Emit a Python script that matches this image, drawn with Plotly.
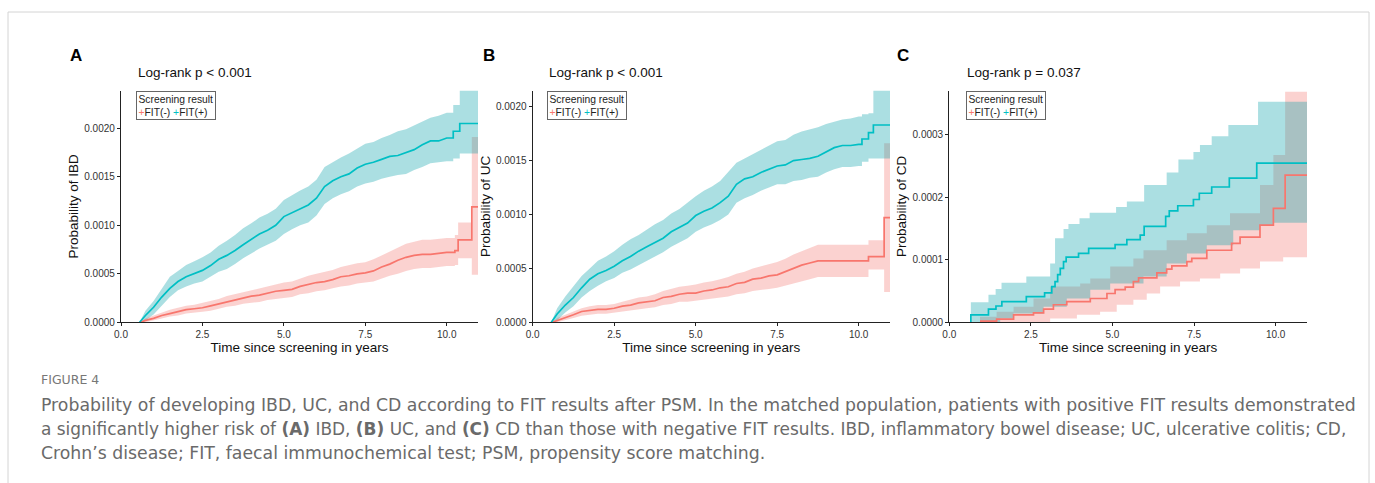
import plotly.graph_objects as go

# ---------------- data ----------------
PINK = "#F8766D"
TEAL = "#00BFC4"
PINK_BAND = "rgba(242,110,102,0.31)"
TEAL_BAND = "rgba(0,158,168,0.33)"

panel_letters = ["A", "B", "C"]
panel_titles = ["Log-rank p &lt; 0.001", "Log-rank p &lt; 0.001", "Log-rank p = 0.037"]
y_titles = ["Probability of IBD", "Probability of UC", "Probability of CD"]
x_title = "Time since screening in years"
x_ticks = [0.0, 2.5, 5.0, 7.5, 10.0]
y_ticks_A = [0.0, 0.0005, 0.0010, 0.0015, 0.0020]
y_ticks_B = [0.0, 0.0005, 0.0010, 0.0015, 0.0020]
y_ticks_C = [0.0, 0.0001, 0.0002, 0.0003]
x_max = 10.96
y_max = [0.00239, 0.00215, 0.00037]
legend_title = "Screening result"
groups = ["FIT(-)", "FIT(+)"]

# Panel A : IBD
A_pos_t = [0.57, 0.75, 1.0, 1.25, 1.5, 1.75, 2.0, 2.25, 2.5, 2.75, 3.0, 3.25, 3.5, 3.75, 4.0, 4.25,
           4.5, 4.75, 5.0, 5.25, 5.5, 5.75, 6.0, 6.25, 6.5, 6.75, 7.0, 7.25, 7.5, 7.75, 8.0, 8.25,
           8.5, 8.75, 9.0, 9.25, 9.5, 9.75, 10.0, 10.2, 10.4, 10.96]
A_pos_est = [0, 0.00007, 0.000155, 0.00026, 0.00035, 0.00042, 0.00047, 0.0005, 0.000535, 0.000585,
             0.00065, 0.00069, 0.00074, 0.0008, 0.000855, 0.00091, 0.00095, 0.001, 0.00109, 0.00113,
             0.00117, 0.00121, 0.00128, 0.0014, 0.00146, 0.0015, 0.00153, 0.00159, 0.00163, 0.00165,
             0.00168, 0.00171, 0.00172, 0.00175, 0.00178, 0.00183, 0.00187, 0.00187, 0.0019, 0.00197,
             0.00205, 0.00205]
A_pos_lo = [0, 0.00002, 0.00008, 0.00017, 0.00026, 0.00033, 0.00037, 0.0004, 0.00042, 0.00047,
            0.00052, 0.00055, 0.0006, 0.00066, 0.00071, 0.00076, 0.0008, 0.00084, 0.00091, 0.00096,
            0.001, 0.00103, 0.0011, 0.00122, 0.00128, 0.00132, 0.00135, 0.0014, 0.00143, 0.00145,
            0.00148, 0.0015, 0.00152, 0.00153, 0.00157, 0.0016, 0.00164, 0.00165, 0.00166, 0.00169,
            0.00174, 0.00174]
A_pos_hi = [0, 0.00012, 0.00022, 0.00034, 0.00047, 0.00053, 0.00059, 0.00063, 0.00067, 0.00072,
            0.00079, 0.00084, 0.0009, 0.00097, 0.00102, 0.00108, 0.00112, 0.00117, 0.00126, 0.00131,
            0.00136, 0.0014, 0.00147, 0.0016, 0.00165, 0.0017, 0.00174, 0.00179, 0.00184, 0.00186,
            0.0019, 0.00193, 0.00197, 0.00199, 0.00203, 0.00207, 0.00211, 0.00213, 0.00216, 0.00224,
            0.00239, 0.00239]

A_neg_t = [0.6, 0.75, 1.0, 1.25, 1.5, 1.75, 2.0, 2.25, 2.5, 2.75, 3.0, 3.25, 3.5, 3.75, 4.0, 4.25,
           4.5, 4.75, 5.0, 5.25, 5.5, 5.75, 6.0, 6.25, 6.5, 6.75, 7.0, 7.25, 7.5, 7.75, 8.0, 8.25,
           8.5, 8.75, 9.0, 9.25, 9.5, 9.75, 10.0, 10.25, 10.35, 10.77, 10.96]
A_neg_est = [0, 0.00002, 0.00004, 0.00007, 0.00009, 0.00011, 0.00013, 0.00014, 0.00015, 0.00017,
             0.00019, 0.00021, 0.00023, 0.00025, 0.00027, 0.00028, 0.0003, 0.00032, 0.00033, 0.00034,
             0.00037, 0.00039, 0.00041, 0.00042, 0.00044, 0.00047, 0.00048, 0.0005, 0.00051, 0.00053,
             0.00057, 0.0006, 0.00064, 0.00067, 0.00069, 0.0007, 0.0007, 0.00071, 0.00072, 0.00074,
             0.00085, 0.00119, 0.00119]
A_neg_lo = [0, 0, 0.00002, 0.00004, 0.00006, 0.00007, 0.00009, 0.0001, 0.00011, 0.00012,
            0.00014, 0.00016, 0.00017, 0.00019, 0.0002, 0.00021, 0.00023, 0.00024, 0.00025, 0.00026,
            0.00029, 0.0003, 0.00032, 0.00033, 0.00035, 0.00037, 0.00038, 0.0004, 0.00041, 0.00042,
            0.00045, 0.00048, 0.0005, 0.00053, 0.00055, 0.00056, 0.00056, 0.00057, 0.00058, 0.00059,
            0.00066, 0.00049, 0.00049]
A_neg_hi = [0, 0.00004, 0.00007, 0.0001, 0.00013, 0.00015, 0.00017, 0.00018, 0.0002, 0.00022,
            0.00024, 0.00027, 0.00029, 0.00031, 0.00033, 0.00035, 0.00037, 0.00039, 0.00041, 0.00042,
            0.00045, 0.00048, 0.0005, 0.00052, 0.00054, 0.00057, 0.00059, 0.00061, 0.00062, 0.00065,
            0.00069, 0.00073, 0.00077, 0.00081, 0.00083, 0.00085, 0.00085, 0.00086, 0.00087, 0.0009,
            0.00103, 0.00191, 0.00191]

# Panel B : UC
B_pos_t = [0.57, 0.75, 1.0, 1.25, 1.5, 1.75, 2.0, 2.25, 2.5, 2.75, 3.0, 3.25, 3.5, 3.75, 4.0, 4.25,
           4.5, 4.75, 5.0, 5.25, 5.5, 5.75, 6.0, 6.25, 6.5, 6.75, 7.0, 7.25, 7.5, 7.75, 8.0, 8.25,
           8.5, 8.75, 9.0, 9.25, 9.5, 9.75, 10.0, 10.1, 10.3, 10.45, 10.96]
B_pos_est = [0, 0.000077, 0.00016, 0.00023, 0.00032, 0.0004, 0.00045, 0.00048, 0.00052, 0.00057,
             0.00061, 0.00066, 0.0007, 0.00074, 0.00078, 0.00084, 0.00088, 0.00092, 0.00099, 0.00103,
             0.00106, 0.00111, 0.00117, 0.00128, 0.00133, 0.00135, 0.00139, 0.00142, 0.00145, 0.00146,
             0.0015, 0.00151, 0.00152, 0.00154, 0.00158, 0.00162, 0.00164, 0.00164, 0.00165, 0.0017,
             0.00176, 0.00183, 0.00183]
B_pos_lo = [0, 0.00002, 0.00009, 0.00015, 0.00023, 0.00029, 0.00034, 0.00038, 0.00041, 0.00046,
            0.00049, 0.00053, 0.00057, 0.00061, 0.00065, 0.0007, 0.00074, 0.00078, 0.00084, 0.00088,
            0.00091, 0.00095, 0.001, 0.00111, 0.00115, 0.00118, 0.00122, 0.00125, 0.00128, 0.00128,
            0.00131, 0.00132, 0.00134, 0.00135, 0.00139, 0.00142, 0.00144, 0.00144, 0.00145, 0.00149,
            0.00152, 0.00152, 0.00152]
B_pos_hi = [0, 0.00013, 0.00024, 0.00033, 0.00043, 0.0005, 0.00057, 0.00061, 0.00066, 0.00072,
            0.00077, 0.00081, 0.00086, 0.00091, 0.00095, 0.00101, 0.00105, 0.00111, 0.00117, 0.00122,
            0.00126, 0.00131, 0.00139, 0.00148, 0.00152, 0.00156, 0.0016, 0.00164, 0.00168, 0.00169,
            0.00174, 0.00177, 0.00179, 0.00181, 0.00184, 0.00186, 0.00188, 0.00189, 0.00191, 0.00193,
            0.00194, 0.00215, 0.00215]

B_neg_t = [0.6, 0.75, 1.0, 1.25, 1.5, 1.75, 2.0, 2.25, 2.5, 2.75, 3.0, 3.25, 3.5, 3.75, 4.0, 4.25,
           4.5, 4.75, 5.0, 5.25, 5.5, 5.75, 6.0, 6.25, 6.5, 6.75, 7.0, 7.25, 7.5, 7.75, 8.0, 8.25,
           8.5, 8.75, 9.0, 9.25, 9.5, 9.75, 10.0, 10.3, 10.78, 10.96]
B_neg_est = [0, 0.000015, 0.00004, 0.00007, 0.0001, 0.00011, 0.00012, 0.00012, 0.00013, 0.00015,
             0.00016, 0.00018, 0.00019, 0.0002, 0.00023, 0.00024, 0.00026, 0.00027, 0.00027, 0.00029,
             0.0003, 0.00032, 0.00033, 0.00036, 0.00037, 0.0004, 0.00041, 0.00043, 0.00044, 0.00047,
             0.0005, 0.00053, 0.00055, 0.00057, 0.00057, 0.00057, 0.00057, 0.00057, 0.00057,
             0.00061, 0.00097, 0.00097]
B_neg_lo = [0, 0, 0.00002, 0.00004, 0.00006, 0.00007, 0.00008, 0.00008, 0.00009, 0.0001,
            0.00011, 0.00012, 0.00013, 0.00014, 0.00016, 0.00017, 0.00019, 0.00019, 0.0002, 0.00021,
            0.00022, 0.00023, 0.00024, 0.00026, 0.00027, 0.00029, 0.0003, 0.00031, 0.00032, 0.00034,
            0.00036, 0.00038, 0.0004, 0.00042, 0.00042, 0.00042, 0.00042, 0.00042, 0.00042,
            0.00049, 0.00028, 0.00028]
B_neg_hi = [0, 0.00004, 0.00007, 0.0001, 0.00013, 0.00015, 0.00016, 0.00016, 0.00017, 0.00019,
            0.00021, 0.00023, 0.00024, 0.00026, 0.00029, 0.00031, 0.00033, 0.00034, 0.00035, 0.00037,
            0.00038, 0.0004, 0.00042, 0.00045, 0.00047, 0.0005, 0.00052, 0.00054, 0.00056, 0.00059,
            0.00063, 0.00066, 0.00069, 0.00072, 0.00072, 0.00072, 0.00072, 0.00072, 0.00072,
            0.00076, 0.00166, 0.00166]

# Panel C : CD (steps; confidence limits have their own step times)
C_pos_t = [0.64, 0.66, 1.2, 1.43, 1.61, 2.36, 2.92, 3.14, 3.24, 3.32, 3.4, 3.5, 3.58, 3.96, 4.27,
           5.08, 5.44, 5.85, 5.97, 6.63, 6.74, 7.0, 7.48, 7.66, 8.04, 8.58, 9.42, 10.96]
C_pos_est = [0, 0.000012, 0.000021, 0.000026, 0.000033, 0.000041, 0.000047, 0.000057, 0.000065,
             0.000076, 0.000086, 0.000097, 0.000104, 0.00011, 0.000118, 0.000124, 0.000132, 0.000139,
             0.000153, 0.000169, 0.000178, 0.000186, 0.000196, 0.000206, 0.000216, 0.00023, 0.000254,
             0.000254]
C_pos_hi_t = [0.64, 0.66, 1.2, 1.42, 1.6, 2.36, 3.09, 3.24, 3.5, 3.65, 3.99, 4.3, 5.11, 5.44, 5.97,
              6.66, 7.02, 7.48, 7.68, 8.04, 8.55, 9.46, 10.96]
C_pos_hi = [0, 0.000032, 0.000044, 0.000053, 0.000063, 0.000073, 0.000094, 0.000134, 0.000149,
            0.000157, 0.000166, 0.000175, 0.000184, 0.000193, 0.000219, 0.000239, 0.00026, 0.000272,
            0.000283, 0.000297, 0.000315, 0.000352, 0.000352]
C_pos_lo_t = [0.64, 1.56, 1.97, 2.89, 3.6, 4.32, 4.93, 5.95, 6.66, 7.28, 7.89, 8.7, 9.52, 9.93, 10.96]
C_pos_lo = [0, 0.000006, 0.000014, 0.000025, 0.000038, 0.000052, 0.000062, 0.000073, 0.000094,
            0.00011, 0.000123, 0.000147, 0.000155, 0.000159, 0.000159]

C_neg_t = [0.94, 1.45, 1.97, 2.58, 2.89, 3.19, 3.6, 4.32, 4.83, 5.08, 5.39, 5.64, 5.8, 6.36, 6.66,
           6.82, 7.28, 7.43, 7.89, 8.65, 8.91, 9.52, 9.93, 10.29, 10.96]
C_neg_est = [0.000002, 0.000005, 0.000012, 0.000015, 0.000021, 0.000028, 0.000033, 0.000038,
             0.000046, 0.000052, 0.000056, 0.000065, 0.000071, 0.000079, 0.000085, 0.00009, 0.000097,
             0.000102, 0.000115, 0.000126, 0.000136, 0.000155, 0.000182, 0.000235, 0.000235]
C_neg_hi_t = [0.94, 1.45, 1.97, 2.58, 3.09, 4.01, 4.32, 4.93, 5.64, 5.95, 6.66, 7.28, 7.89, 8.6,
              9.52, 9.93, 10.29, 10.96]
C_neg_hi = [0.000009, 0.000017, 0.000025, 0.000038, 0.000057, 0.000062, 0.00007, 0.000089, 0.000102,
            0.000115, 0.000131, 0.000142, 0.000155, 0.000174, 0.000219, 0.000267, 0.000368, 0.000368]
C_neg_lo_t = [0.94, 3.09, 3.91, 4.62, 5.13, 5.64, 6.05, 6.46, 7.07, 7.68, 8.3, 8.91, 9.52, 10.23, 10.96]
C_neg_lo = [0, 0.000006, 0.000012, 0.000017, 0.000028, 0.000036, 0.000046, 0.000057, 0.000065,
            0.00007, 0.000078, 0.000086, 0.000097, 0.000104, 0.000104]

caption_label = "FIGURE 4"
caption_lines = [
    "Probability of developing IBD, UC, and CD according to FIT results after PSM. In the matched population, patients with positive FIT results demonstrated",
    "a significantly higher risk of <b>(A)</b> IBD, <b>(B)</b> UC, and <b>(C)</b> CD than those with negative FIT results. IBD, inflammatory bowel disease; UC, ulcerative colitis; CD,",
    "Crohn\u2019s disease; FIT, faecal immunochemical test; PSM, propensity score matching.",
]

# ---------------- layout geometry (pixels) ----------------
W, H = 1375, 483
panel_x = [(121, 478), (532.7, 890), (949.3, 1307)]
plot_top, plot_bottom = 90.5, 322.3
caption_sizes = [17.3, 16.95, 17.3]
# A and B: densely stepped curves drawn as polylines up to this time, KM steps after it;
# C: KM steps throughout
smooth_until = [10.0, 10.0, None]


def px(x):
    return x / W


def py(y):
    return 1 - y / H


def km_path(t, v, smooth_end):
    xs, ys = [t[0]], [v[0]]
    for i in range(1, len(t)):
        if smooth_end is not None and t[i] <= smooth_end + 1e-9:
            xs.append(t[i])
            ys.append(v[i])
        else:
            xs += [t[i], t[i]]
            ys += [v[i - 1], v[i]]
    return xs, ys


fig = go.Figure()

panels = [
    dict(neg=(A_neg_t, A_neg_est, A_neg_t, A_neg_lo, A_neg_t, A_neg_hi),
         pos=(A_pos_t, A_pos_est, A_pos_t, A_pos_lo, A_pos_t, A_pos_hi), yt=y_ticks_A),
    dict(neg=(B_neg_t, B_neg_est, B_neg_t, B_neg_lo, B_neg_t, B_neg_hi),
         pos=(B_pos_t, B_pos_est, B_pos_t, B_pos_lo, B_pos_t, B_pos_hi), yt=y_ticks_B),
    dict(neg=(C_neg_t, C_neg_est, C_neg_lo_t, C_neg_lo, C_neg_hi_t, C_neg_hi),
         pos=(C_pos_t, C_pos_est, C_pos_lo_t, C_pos_lo, C_pos_hi_t, C_pos_hi), yt=y_ticks_C),
]

FONT = "Liberation Sans, Arial, sans-serif"

for i, p in enumerate(panels):
    xa = "x" if i == 0 else f"x{i + 1}"
    ya = "y" if i == 0 else f"y{i + 1}"
    smooth_end = smooth_until[i]
    for key, col in (("neg", PINK_BAND), ("pos", TEAL_BAND)):
        t, est, tlo, lo, thi, hi = p[key]
        xu, yu = km_path(thi, hi, smooth_end)
        xl, yl = km_path(tlo, lo, smooth_end)
        fig.add_trace(go.Scatter(x=xu + xl[::-1], y=yu + yl[::-1], fill="toself", fillcolor=col,
                                 mode="lines", line=dict(width=0), hoverinfo="skip",
                                 showlegend=False, xaxis=xa, yaxis=ya))
    for key, col, name in (("neg", PINK, groups[0]), ("pos", TEAL, groups[1])):
        t, est = p[key][0], p[key][1]
        xs, ys = km_path(t, est, smooth_end)
        fig.add_trace(go.Scatter(x=xs, y=ys, mode="lines", line=dict(color=col, width=1.7),
                                 name=name, showlegend=False, xaxis=xa, yaxis=ya))

    x0, x1 = panel_x[i]
    axis_common = dict(showline=True, linecolor="#222", linewidth=1.3, ticks="outside", ticklen=3,
                       tickwidth=1, tickcolor="#222", showgrid=False, zeroline=False, automargin=False,
                       tickfont=dict(family=FONT, size=10, color="#333"))
    fig.layout[("xaxis" if i == 0 else f"xaxis{i + 1}")] = dict(
        domain=[px(x0), px(x1)], anchor=ya, range=[0, x_max], tickvals=x_ticks,
        ticktext=[f"{v:.1f}" for v in x_ticks],
        title=dict(text=x_title, font=dict(family=FONT, size=13.5, color="#111"), standoff=3),
        **axis_common)
    fig.layout[("yaxis" if i == 0 else f"yaxis{i + 1}")] = dict(
        domain=[py(plot_bottom), py(plot_top)], anchor=xa, range=[0, y_max[i]], tickvals=p["yt"],
        ticktext=[f"{v:.4f}" for v in p["yt"]],
        title=dict(text=y_titles[i], font=dict(family=FONT, size=13.5, color="#111"), standoff=2),
        **axis_common)

# annotations: panel letters, titles, legends, caption
ann = []
letter_x = [76, 489, 903]
title_x = [136, 547, 965]
legend_x = [136, 547, 966]
for i in range(3):
    ann.append(dict(x=px(letter_x[i]), y=py(55), xref="paper", yref="paper", text=f"<b>{panel_letters[i]}</b>",
                    showarrow=False, xanchor="center", yanchor="middle",
                    font=dict(family=FONT, size=17, color="#000")))
    ann.append(dict(x=px(title_x[i]), y=py(72), xref="paper", yref="paper", text=panel_titles[i],
                    showarrow=False, xanchor="left", yanchor="middle",
                    font=dict(family=FONT, size=13.5, color="#111")))
    leg_text = (f"{legend_title}<br><span style='color:{PINK}'>+</span>{groups[0]} "
                f"<span style='color:{TEAL}'>+</span>{groups[1]}")
    ann.append(dict(x=px(legend_x[i]), y=py(91), xref="paper", yref="paper", text=leg_text,
                    showarrow=False, xanchor="left", yanchor="top", align="left",
                    bordercolor="#666", borderwidth=1, borderpad=1.5, bgcolor="white",
                    font=dict(family=FONT, size=10.3, color="#222")))

CAP_FONT = "DejaVu Sans, sans-serif"
ann.append(dict(x=px(39), y=py(379), xref="paper", yref="paper", text=caption_label, showarrow=False,
                xanchor="left", yanchor="middle", font=dict(family=CAP_FONT, size=12.5, color="#777")))
for k, line in enumerate(caption_lines):
    ann.append(dict(x=px(39), y=py(405 + 24 * k), xref="paper", yref="paper", text=line, showarrow=False,
                    xanchor="left", yanchor="middle",
                    font=dict(family=CAP_FONT, size=caption_sizes[k], color="#6a6a6a")))

fig.update_layout(
    template="none",
    width=W, height=H, margin=dict(l=0, r=0, t=0, b=0, pad=0),
    paper_bgcolor="white", plot_bgcolor="white", showlegend=False,
    annotations=ann,
    shapes=[dict(type="rect", xref="paper", yref="paper", x0=px(8), x1=px(1369), y0=-0.1, y1=py(12),
                 line=dict(color="#d4d4d4", width=1), fillcolor="rgba(0,0,0,0)", layer="below")],
)

fig.write_html("out.html", config={"displayModeBar": False},
               post_script="document.body.style.margin='0';document.body.style.overflow='hidden';")
